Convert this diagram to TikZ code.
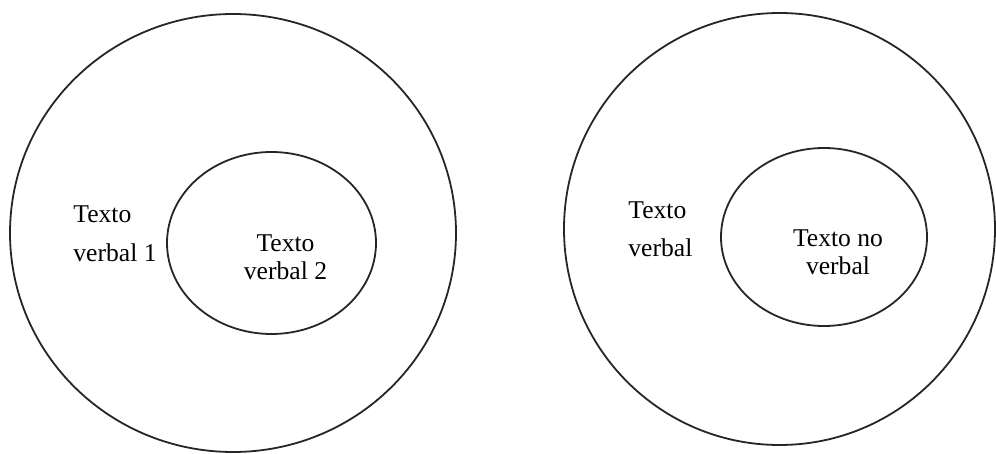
\documentclass[tikz,border=0pt]{standalone}
\usepackage{fontspec}
\setmainfont{Liberation Serif}
\usetikzlibrary{shapes,positioning,backgrounds}

\pgfdeclareradialshading{rim}{\pgfpoint{0bp}{0bp}}{color(0bp)=(white); color(38bp)=(white); color(46bp)=(black!6); color(50bp)=(black!20)}

\begin{document}
\begin{tikzpicture}[x=0.5pt, y=-0.5pt,
    outer/.style={ellipse, draw=black!85, line width=0.9pt, shading=rim, inner sep=0pt},
    inner/.style={ellipse, draw=black!85, line width=0.9pt, inner sep=0pt},
    label/.style={font=\fontsize{12.8}{19.5}\selectfont, align=left, inner sep=0pt, anchor=base west},
    inlabel/.style={font=\fontsize{12.8}{14}\selectfont, align=center, inner sep=0pt, anchor=base}]
    \useasboundingbox (0,0) rectangle (996,454);

    % Left diagram
    \node [outer, minimum width=223pt, minimum height=219pt] (outerA) at (233,233) {};
    \node [inner, minimum width=104.5pt, minimum height=91pt] (innerA) at (271.5,243) {};
    \node [label] (verbA) at (73,262) {Texto\\verbal 1};
    \node [inlabel] (verbB) at (285.5,280) {Texto\\verbal 2};

    % Right diagram
    \node [outer, minimum width=215.5pt, minimum height=216pt] (outerB) at (779.5,229) {};
    \node [inner, minimum width=103pt, minimum height=89pt] (innerB) at (824,237) {};
    \node [label] (verbC) at (628,257) {Texto\\verbal};
    \node [inlabel] (nonverb) at (838,275) {Texto no\\verbal};
\end{tikzpicture}
\end{document}
